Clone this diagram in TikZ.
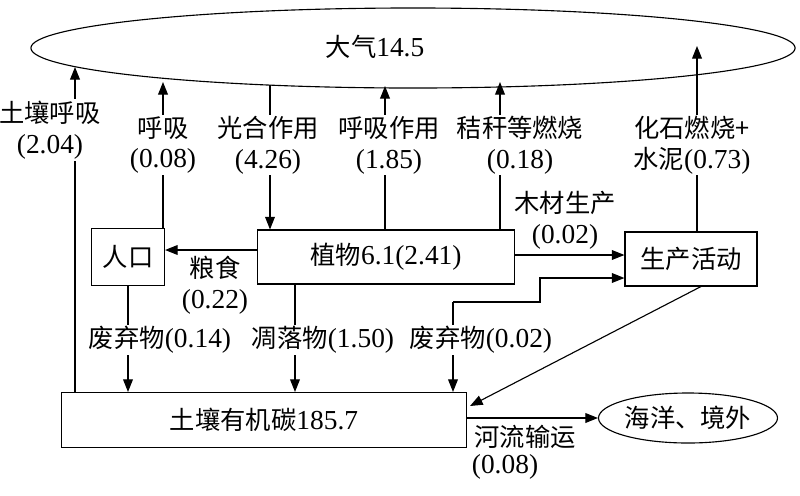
\documentclass[tikz,border=0pt]{standalone}
\usepackage{fontspec}
\setmainfont{Liberation Serif}
\newfontfamily\cjk{Noto Sans CJK SC}
\newcommand{\numt}[1]{{\rmfamily\fontsize{19.5}{22}\selectfont #1}}
\usetikzlibrary{arrows.meta,shapes.geometric}
\begin{document}
\begin{tikzpicture}[x=0.025cm,y=-0.025cm,
  font=\cjk\fontsize{18}{22}\selectfont,
  box/.style={draw,line width=0.8pt,inner sep=0pt},
  lab/.style={fill=white,inner sep=1pt,align=center},
  ar/.style={line width=0.8pt,-{Triangle[length=9pt,width=7pt]}},
  ln/.style={line width=0.8pt}]
\useasboundingbox (0,0) rectangle (800,495);
\node[ellipse,draw,line width=0.8pt,minimum width=19.1cm,minimum height=2cm,inner sep=0pt] (atm) at (413,48) {};
\node (atmt) at (375,47) {大气\numt{14.5}};
\node[box,minimum width=1.825cm,minimum height=1.425cm] (pop) at (128,257) {人口};
\node[box,minimum width=6.425cm,minimum height=1.35cm] (pl) at (386,257) {植物\numt{6.1(2.41)}};
\node[box,minimum width=3.3cm,minimum height=1.35cm] (pr) at (691,259) {生产活动};
\node[box,minimum width=10.125cm,minimum height=1.375cm] (soil) at (264,420) {土壤有机碳\numt{185.7}};
\node[ellipse,draw,line width=0.8pt,minimum width=4.25cm,minimum height=1.25cm,inner sep=0pt] (sea) at (688,418) {海洋、境外};
% vertical flows
\coordinate (a1) at (75,67);
\draw[ar] (soil.north -| 75,0) -- (a1);
\coordinate (a2) at (163,82);
\draw[ar] (pop.north -| 163,0) -- (a2);
\coordinate (a3) at (270,85);
\draw[ar] (a3) -- (pl.north -| 270,0);
\coordinate (a4) at (385,86);
\draw[ar] (pl.north -| 385,0) -- (a4);
\coordinate (a5) at (500,82);
\draw[ar] (pl.north -| 500,0) -- (a5);
\coordinate (a6) at (697,46);
\draw[ar] (pr.north -| 697,0) -- (a6);
\node[lab] (l1) at (50,130) {土壤呼吸\\\numt{(2.04)}};
\node[lab] (l2) at (163,145) {呼吸\\\numt{(0.08)}};
\node[lab] (l3) at (268,145) {光合作用\\\numt{(4.26)}};
\node[lab] (l4) at (389,145) {呼吸作用\\\numt{(1.85)}};
\node[lab] (l5) at (520,145) {秸秆等燃烧\\\numt{(0.18)}};
\node[lab] (l6) at (692,145) {化石燃烧+\\水泥\numt{(0.73)}};
% horizontal
\draw[ar] (pl.west |- 0,250) -- (pop.east |- 0,250);
\node[lab,fill=none] (l7) at (215,285) {粮食\\\numt{(0.22)}};
\draw[ar] (pl.east |- 0,255) -- (pr.west |- 0,255);
\node[lab,fill=none] (l8) at (565,220) {木材生产\\\numt{(0.02)}};
% downward
\draw[ar] (pop.south) -- (soil.north -| pop.south);
\draw[ar] (pl.south -| 295,0) -- (soil.north -| 295,0);
\coordinate (w1) at (453,302);
\coordinate (w2) at (540,302);
\coordinate (w3) at (540,278);
\draw[ar] (w1) -- (soil.north -| 453,0);
\draw[ar] (w1) -- (w2) -- (w3) -- (pr.west |- w3);
\node[lab] (l9) at (160,340) {废弃物\numt{(0.14)}};
\node[lab] (l10) at (323,340) {凋落物\numt{(1.50)}};
\node[lab] (l11) at (481,340) {废弃物\numt{(0.02)}};
\coordinate (p1) at (702,286);
\draw[ar] (p1) -- (470,406);
\draw[ar] (soil.east |- sea) -- (sea.west);
\node[lab,fill=none] (l12) at (525,437) {河流输运};
\node (l13) at (505,467) {\numt{(0.08)}};
\end{tikzpicture}
\end{document}
